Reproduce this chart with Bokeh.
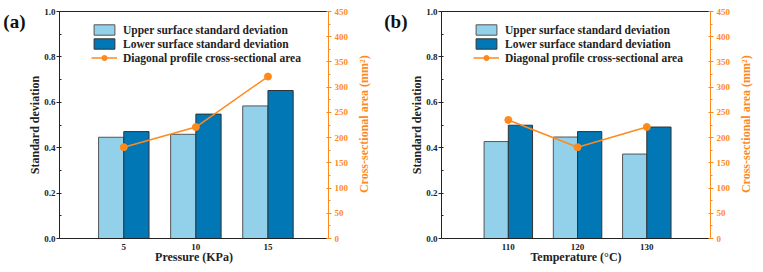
import math
from bokeh.plotting import figure
from bokeh.layouts import row
from bokeh.models import (ColumnDataSource, Range1d, LinearAxis, FixedTicker,
                          SingleIntervalTicker, Legend, LegendItem,
                          PrintfTickFormatter)
from bokeh.transform import dodge
from bokeh.embed import file_html
from bokeh.resources import INLINE

# ---- data ----
pressure_labels = ["5", "10", "15"]
pressure_upper_sd = [0.446, 0.459, 0.584]
pressure_lower_sd = [0.471, 0.548, 0.652]
pressure_area = [181, 221, 321]

temp_labels = ["110", "120", "130"]
temp_upper_sd = [0.427, 0.447, 0.372]
temp_lower_sd = [0.499, 0.471, 0.491]
temp_area = [235, 181, 221]

FONT = "Liberation Serif"
LIGHT = "#93D0EA"
DARK = "#0177B5"
ORANGE = "#FF8A1C"
AXIS = "#222222"
TAG_Y = 0.955        # height of the panel tag, in left-axis units
AREA_TITLE_Y = 0.2   # where the upward-reading right title starts, in left-axis units


def make_panel(tag, labels, upper, lower, area, xlabel, xr, width, border_left, border_right):
    pos = list(range(1, len(labels) + 1))
    src = ColumnDataSource(dict(x=pos, upper=upper, lower=lower, area=area))

    p = figure(width=width, height=272, output_backend="svg", toolbar_location=None,
               x_range=Range1d(*xr), y_range=Range1d(0, 1.0),
               min_border_left=border_left, min_border_right=border_right,
               min_border_top=11, min_border_bottom=34)
    p.extra_y_ranges = {"area": Range1d(0, 450)}
    p.grid.visible = False
    p.outline_line_color = None
    p.background_fill_color = "white"

    bw = 0.35
    r_up = p.vbar(x=dodge("x", -bw / 2, range=p.x_range), top="upper", width=bw, source=src,
                  fill_color=LIGHT, line_color="#555555", line_width=1)
    r_lo = p.vbar(x=dodge("x", bw / 2, range=p.x_range), top="lower", width=bw, source=src,
                  fill_color=DARK, line_color="#333333", line_width=1)
    r_ln = p.line(x="x", y="area", source=src, y_range_name="area",
                  line_color=ORANGE, line_width=1.5)
    r_pt = p.scatter(x="x", y="area", source=src, y_range_name="area", marker="circle",
                     size=7, fill_color=ORANGE, line_color=ORANGE)

    # left axis: standard deviation
    ya = p.yaxis[0]
    ya.ticker = SingleIntervalTicker(interval=0.2, num_minor_ticks=2)
    ya.formatter = PrintfTickFormatter(format="%.1f")
    ya.axis_label = "Standard deviation"

    # bottom axis: categories
    xa = p.xaxis[0]
    xa.ticker = FixedTicker(ticks=pos)
    xa.major_label_overrides = {k: v for k, v in zip(pos, labels)}
    xa.axis_label = xlabel
    xa.major_tick_out = 0
    xa.major_tick_in = 0
    xa.minor_tick_out = 0

    # right axis: cross-sectional area
    ra = LinearAxis(y_range_name="area", ticker=SingleIntervalTicker(interval=50, num_minor_ticks=2))
    p.add_layout(ra, "right")

    # right title, reading upwards, carried by an outer right axis with one labelled tick
    area_title = LinearAxis(ticker=FixedTicker(ticks=[AREA_TITLE_Y]),
                            major_label_overrides={AREA_TITLE_Y: "Cross-sectional area (mm²)"},
                            major_label_orientation=math.pi / 2,
                            major_tick_out=0, major_tick_in=0, minor_tick_out=0, minor_tick_in=0,
                            axis_line_color=None, major_label_standoff=13,
                            major_label_text_font=FONT, major_label_text_font_style="bold",
                            major_label_text_font_size="12px", major_label_text_color=ORANGE)
    p.add_layout(area_title, "right")

    # top frame line
    ta = LinearAxis(ticker=FixedTicker(ticks=[]), major_tick_out=0, minor_tick_out=0)
    p.add_layout(ta, "above")
    ta.axis_line_color = AXIS

    # panel tag "(a)"/"(b)" carried by an outer left axis with a single labelled tick
    tag_axis = LinearAxis(ticker=FixedTicker(ticks=[TAG_Y]), major_label_overrides={TAG_Y: tag},
                          major_tick_out=0, major_tick_in=0, minor_tick_out=0, minor_tick_in=0,
                          axis_line_color=None, major_label_standoff=0,
                          major_label_text_font=FONT, major_label_text_font_style="bold",
                          major_label_text_font_size="19px", major_label_text_color="#111111")
    p.add_layout(tag_axis, "left")

    for ax in (ya, xa):
        ax.axis_line_color = AXIS
        ax.major_tick_line_color = AXIS
        ax.minor_tick_line_color = AXIS
        ax.major_label_text_color = AXIS
        ax.axis_label_text_color = AXIS
    ya.major_tick_out = 3
    ya.major_tick_in = 0
    ya.minor_tick_out = 0
    ya.minor_tick_in = 2
    ra.axis_line_color = ORANGE
    ra.major_tick_line_color = ORANGE
    ra.minor_tick_line_color = ORANGE
    ra.major_label_text_color = ORANGE
    ra.major_tick_out = 3
    ra.major_tick_in = 2
    ra.minor_tick_out = 2
    ra.minor_tick_in = 0

    for ax in (ya, xa, ra):
        ax.major_label_text_font = FONT
        ax.major_label_text_font_style = "bold"
        ax.major_label_text_font_size = "9px"
        ax.axis_label_text_font = FONT
        ax.axis_label_text_font_style = "bold"
        ax.axis_label_text_font_size = "12px"
        ax.major_label_standoff = 3
        ax.axis_label_standoff = 5
    ya.major_label_standoff = 1
    ya.axis_label_standoff = -1
    xa.major_label_standoff = 5
    xa.axis_label_standoff = -3

    legend = Legend(items=[
        LegendItem(label="Upper surface standard deviation", renderers=[r_up]),
        LegendItem(label="Lower surface standard deviation", renderers=[r_lo]),
        LegendItem(label="Diagonal profile cross-sectional area", renderers=[r_ln, r_pt]),
    ], location=(32, 174), padding=0, spacing=1, glyph_width=26, glyph_height=13,
        label_height=13, label_standoff=6, border_line_color=None,
        background_fill_alpha=0, label_text_font=FONT, label_text_font_style="bold",
        label_text_font_size="11.5px", label_text_color=AXIS)
    p.add_layout(legend)
    return p


pa = make_panel("(a)", pressure_labels, pressure_upper_sd, pressure_lower_sd, pressure_area,
                "Pressure (KPa)", (0.108, 3.84), 381, 59, 46)
pb = make_panel("(b)", temp_labels, temp_upper_sd, temp_lower_sd, temp_area,
                "Temperature (°C)", (0.035, 3.92), 382, 58, 43)

layout = row(pa, pb)
open("out.html", "w").write(file_html(layout, INLINE))
